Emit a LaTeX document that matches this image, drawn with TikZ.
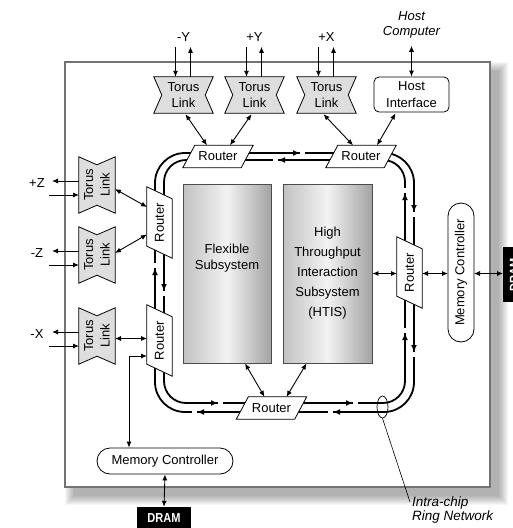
\documentclass[tikz,border=0pt]{standalone}
\usepackage{fontspec}
\setmainfont{Liberation Sans}
\newfontfamily\dramfont[FakeStretch=0.85]{Liberation Sans}
\usetikzlibrary{arrows.meta,shapes.geometric,calc}
\pgfdeclarelayer{chiplayer}
\pgfdeclarelayer{ringlayer}
\pgfdeclarelayer{shapelayer}
\pgfsetlayers{chiplayer,ringlayer,shapelayer,main}
\begin{document}
\begin{tikzpicture}[x=1pt,y=-1pt,
  every node/.style={font=\fontsize{13}{16.5}\selectfont, inner sep=0pt, align=center},
  torus/.style={minimum width=59pt, minimum height=36pt},
  vtorus/.style={minimum width=56pt, minimum height=36pt, rotate=90},
  hrouter/.style={minimum width=70pt, minimum height=22pt},
  vrouter/.style={minimum width=71pt, minimum height=25pt, rotate=90},
  linkshape/.style={draw=black, line width=0.8pt, fill=black!13, line join=miter},
  routershape/.style={draw=black, line width=0.8pt, fill=white},
  dbl/.style={{Latex[length=6pt,width=5pt]}-{Latex[length=6pt,width=5pt]}, line width=0.9pt},
  sgl/.style={-{Latex[length=6pt,width=5pt]}, line width=0.9pt},
  ringline/.style={line width=1.8pt},
  subsys/.style={draw=black!70, line width=0.9pt, minimum height=179pt,
    left color=black!24, right color=black!36, middle color=black!5},
  pill/.style={draw=black, line width=0.8pt, rounded corners=13pt},
  dram/.style={fill=black, text=white, font=\dramfont\bfseries\fontsize{13}{14}\selectfont},
]
\useasboundingbox (0,0) rectangle (513,528);

% chip with shadow
\begin{pgfonlayer}{chiplayer}
  \foreach \k in {0,...,9}
    \fill[black, opacity=0.035] (74-\k,71-\k) rectangle (499+\k,496+\k);
  \node[fill=white, draw=black!55, line width=1.5pt, minimum width=425pt, minimum height=425pt] (chip) at (277.5,274.5) {};
\end{pgfonlayer}

% ring network
\begin{pgfonlayer}{ringlayer}
  \draw[ringline, rounded corners=30pt] (155,153) rectangle (414,412);
  \draw[ringline, rounded corners=22pt] (164,160) rectangle (405,403);
  \foreach \x/\y/\a in {300/153/0, 414/212/90, 414/352/90, 333/412/180, 197/412/180, 155/268/270,
                        278/160/180, 164/291/90, 218/403/0, 353/403/0, 405/193/270, 405/333/270} {
    \draw[white, line width=4pt] (\x,\y) -- ++(\a:5);
    \draw[ringline, -{Latex[length=7pt,width=6pt]}] ($(\x,\y)+({\a+180}:9)$) -- (\x,\y);
  }
\end{pgfonlayer}

% routers
\node[hrouter] (rt1) at (218,156.5) {Router};
\node[hrouter] (rt2) at (361,156.5) {Router};
\node[hrouter] (rb) at (271.5,408) {Router};
\node[vrouter] (rl1) at (159.5,222.5) {Router};
\node[vrouter] (rl2) at (159.5,340.5) {Router};
\node[vrouter] (rr) at (409.5,272.5) {Router};

% torus links
\node[torus] (ny) at (183.5,95) {Torus\\Link};
\node[torus] (py) at (254.5,95) {Torus\\Link};
\node[torus] (px) at (326.5,95) {Torus\\Link};
\node[vtorus] (pz) at (97,185) {Torus\\Link};
\node[vtorus] (nz) at (97,255) {Torus\\Link};
\node[vtorus] (nx) at (97,336) {Torus\\Link};

\begin{pgfonlayer}{shapelayer}
  \foreach \n in {ny,py,px,pz,nz,nx}
    \draw[linkshape] (\n.north west) -- (\n.north east) -- ($(\n.east)!8pt!(\n.west)$)
      -- (\n.south east) -- (\n.south west) -- ($(\n.west)!8pt!(\n.east)$) -- cycle;
  \foreach \n in {rt1,rt2,rb,rl1,rl2,rr}
    \draw[routershape] (\n.south west) -- ($(\n.south east)!12pt!(\n.south west)$)
      -- (\n.north east) -- ($(\n.north west)!12pt!(\n.north east)$) -- cycle;
\end{pgfonlayer}

% host interface
\node[draw, line width=0.8pt, rounded corners=5pt, minimum width=75pt, minimum height=35pt] (hi) at (411.5,94.5) {Host\\Interface};
\node[font=\itshape\fontsize{13}{15.5}\selectfont] (hc) at (411.5,25) {Host\\Computer};
\draw[dbl, shorten <=7pt] (hc.south) -- (hi.north);

% subsystems
\node[subsys, minimum width=88pt] (flex) at (227,273.5) {};
\node (flexlbl) at (227,258) {\fontsize{13}{20}\selectfont Flexible\\\fontsize{13}{20}\selectfont Subsystem};
\node[subsys, minimum width=89pt, font=\fontsize{13}{20}\selectfont] (htis) at (327.5,273.5) {High\\Throughput\\Interaction\\Subsystem\\(HTIS)};

% memory controllers and DRAM
\node[pill, minimum width=136pt, minimum height=26pt] (mcb) at (165,461) {Memory Controller};
\node[pill, minimum width=139pt, minimum height=26pt, rotate=90] (mcr) at (461,272.5) {Memory Controller};
\node[dram, minimum width=54pt, minimum height=23pt] (dramb) at (164,518.5) {DRAM};
\node[dram, minimum width=55pt, minimum height=23pt, rotate=90] (dramr) at (514.5,274.5) {DRAM};

% external torus arrows (top)
\foreach \n/\lab in {ny/-Y, py/+Y, px/+X} {
  \node (l\n) at ($(\n)+(0,-58)$) {\lab};
  \draw[sgl] ($(\n.north)+(-8,-30)$) -- ($(\n.north)+(-8,0)$);
  \draw[sgl] ($(\n.north)+(7,0)$) -- ($(\n.north)+(7,-30)$);
}
% external torus arrows (left)
\foreach \n/\lab in {pz/+Z, nz/-Z, nx/-X} {
  \node (l\n) at ($(\n)+(-60,-2)$) {\lab};
  \draw[sgl] ($(\n)+(-18,-4)$) -- ($(\n)+(-45,-4)$);
  \draw[sgl] ($(\n)+(-48,10)$) -- ($(\n)+(-18,10)$);
}

% links to routers
\draw[dbl] ($(ny.south)+(2,1)$) -- ($(rt1.north)+(-11,0)$);
\draw[dbl] ($(py.south)+(-3,1)$) -- ($(rt1.north)+(12,0)$);
\draw[dbl] ($(px.south)+(-3,1)$) -- ($(rt2.north)+(-8,0)$);
\draw[dbl] ($(hi.south)+(-16,1)$) -- ($(rt2.north)+(16,0)$);
\draw[dbl] ($(pz)+(18,4)$) -- ($(rl1)+(-12.5,-15.5)$);
\draw[dbl] ($(nz)+(18,-2)$) -- ($(rl1)+(-12.5,12)$);
\draw[dbl] ($(nx)+(18,2.5)$) -- ($(rl2)+(-12.5,-2)$);
\coordinate (bend) at (129,356);
\draw[dbl] ($(rl2)+(-12.5,15.5)$) -- (bend) -- (bend |- mcb.north);

% subsystems to routers
\draw[dbl] ($(flex.south)+(18,0)$) -- ($(rb.north)+(-7,0)$);
\draw[dbl] ($(htis.south)+(-21,0)$) -- ($(rb.north)+(15,0)$);
\draw[dbl] (htis.east) -- ($(rr)+(-12.5,1)$);
\draw[dbl] ($(rr)+(12.5,1)$) -- ($(mcr)+(-13,1)$);
\draw[dbl] ($(mcr)+(13,1)$) -- ($(dramr)+(-11.5,-1)$);
\draw[dbl] (mcb.south) -- (dramb.north);

% ring network annotation
\node[ellipse, draw, line width=0.7pt, minimum width=11pt, minimum height=22pt] (ell) at (382.5,407) {};
\node[font=\itshape\fontsize{13.5}{14}\selectfont, align=left, anchor=north west] (icr) at (412,497) {Intra-chip\\Ring Network};
\draw[line width=0.6pt] (ell.south) -- ($(icr.north west)+(-2,5)$);
\end{tikzpicture}
\end{document}
